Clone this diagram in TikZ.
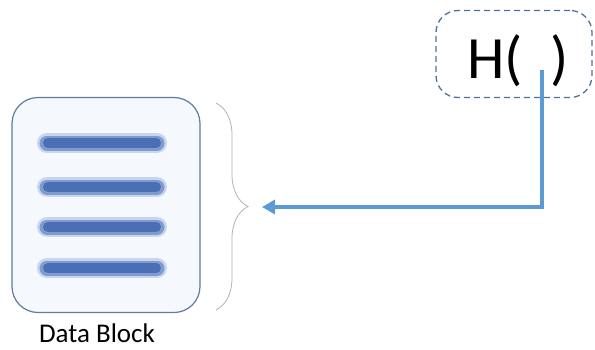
\documentclass[tikz,border=0pt]{standalone}
\usepackage{fontspec}
\setmainfont{Carlito}
\usetikzlibrary{decorations.pathreplacing,arrows.meta}
\definecolor{boxline}{HTML}{5E7C9C}
\definecolor{boxfill}{HTML}{F5F8FC}
\definecolor{barblue}{HTML}{4A6FB5}
\definecolor{barmid}{HTML}{7F9BCF}
\definecolor{barsoft}{HTML}{C9D5EC}
\definecolor{arrblue}{HTML}{5B9BD5}
\definecolor{dashblue}{HTML}{4F7299}
\tikzset{
  datablock/.style={draw=boxline, line width=1.2pt, fill=boxfill, rounded corners=26pt, minimum width=188pt, minimum height=215pt, inner sep=0pt},
  hashbox/.style={draw=dashblue, dashed, dash pattern=on 6pt off 4pt, line width=1.3pt, rounded corners=22pt, minimum width=156pt, minimum height=87pt, inner sep=0pt},
  barsoftline/.style={barsoft, line width=20pt, line cap=round},
  barmidline/.style={barmid, line width=15pt, line cap=round},
  barline/.style={barblue, line width=10pt, line cap=round},
  link/.style={arrblue, line width=3.5pt, -{Triangle[length=13pt,width=14pt]}},
  bracestyle/.style={draw=gray!60, line width=0.8pt, decorate, decoration={brace, amplitude=32pt, aspect=0.5}}
}
\begin{document}
\begin{tikzpicture}[x=1pt,y=-1pt]
\useasboundingbox (0,0) rectangle (595,349);
\node[datablock] (db) at (106,205) {};
\foreach \yy in {143,187,227,268}{
  \draw[barsoftline] (47,\yy) -- (157,\yy);
  \draw[barmidline] (47,\yy) -- (157,\yy);
  \draw[barline] (48,\yy) -- (156,\yy);
}
\node[font=\fontsize{27}{29}\selectfont, anchor=base, inner sep=0pt] (lbl) at (97,342) {Data Block};
\coordinate (btop) at (216,103);
\coordinate (bbot) at (216,310);
\draw[bracestyle] (btop) -- (bbot);
\coordinate (tip) at (262,207);
\node[hashbox] (hb) at (514,54) {};
\node[font=\fontsize{60}{62}\selectfont, anchor=base] (ht) at (518,78) {H(\hspace{27pt})};
\coordinate (start) at (542,70);
\coordinate (corner) at (542,207);
\draw[link] (start) -- (corner) -- (tip);
\end{tikzpicture}
\end{document}
